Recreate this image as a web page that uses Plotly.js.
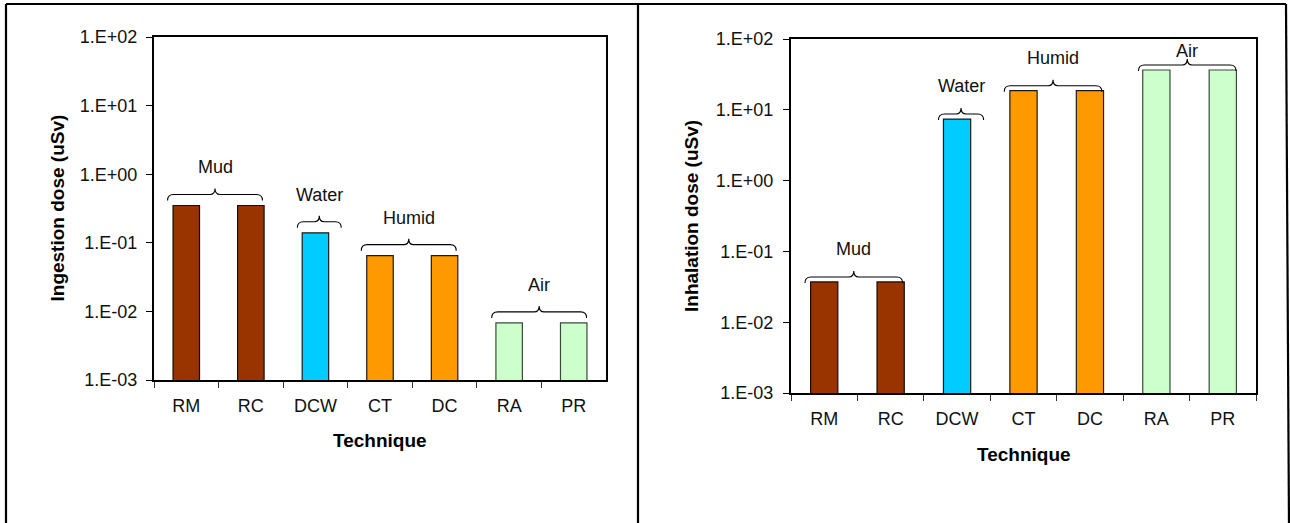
<!DOCTYPE html>
<html>
<head>
<meta charset="utf-8">
<script src="https://cdn.plot.ly/plotly-3.0.1.min.js"></script>
<style>
  html, body { margin: 0; padding: 0; background: #fff; }
  #chart { width: 1290px; height: 523px; }
</style>
</head>
<body>
<div id="chart"></div>
<script>
// ---------------- data ----------------
var categories = ['RM', 'RC', 'DCW', 'CT', 'DC', 'RA', 'PR'];
var groups     = ['Mud', 'Mud', 'Water', 'Humid', 'Humid', 'Air', 'Air'];
var ingestionDose  = [0.35, 0.35, 0.14, 0.065, 0.065, 0.0068, 0.0068];
var inhalationDose = [0.037, 0.037, 7.4, 18.6, 18.6, 36.5, 36.5];
var yTickVals  = [0.001, 0.01, 0.1, 1, 10, 100];
var yTickText  = ['1.E-03', '1.E-02', '1.E-01', '1.E+00', '1.E+01', '1.E+02'];
var groupNames = ['Mud', 'Water', 'Humid', 'Air'];

// ---------------- styles ----------------
var W = 1290, H = 523;
var groupFill = { Mud: '#993300', Water: '#00CCFF', Humid: '#FF9900', Air: '#CCFFCC' };
var groupEdge = { Mud: '#1a0a00', Water: '#1a1a1a', Humid: '#1a1a1a', Air: '#3a4a3a' };
var FONT = 'Liberation Sans, Arial, sans-serif';
// brace horizontal extension (in category widths) left / right of the outer bars
var braceExt = { Mud: [0.29, 0.18], Water: [0.28, 0.40], Humid: [0.29, 0.18], Air: [0.27, 0.2] };

var panels = [
  { values: ingestionDose, title: 'Ingestion dose (uSv)', xa: 'x', ya: 'y',
    left: 154, right: 606, top: 37, bottom: 380,
    braceGap: 11, labelOff: 27, labelOverride: {},
    yTitleX: 57, xTitleY: 440, ytickStandoff: 5 },
  { values: inhalationDose, title: 'Inhalation dose (uSv)', xa: 'x2', ya: 'y2',
    left: 791, right: 1256, top: 39, bottom: 393,
    braceGap: 5, labelOff: 28, labelOverride: { Air: 14 },
    yTitleX: 691, xTitleY: 454, ytickStandoff: 6 }
];

function px2x(p) { return p / W; }
function px2y(p) { return 1 - p / H; }

var traces = [];
var shapes = [];
var annotations = [];
var layout = {
  width: W, height: H,
  margin: { l: 0, r: 0, t: 0, b: 0, pad: 0 },
  paper_bgcolor: '#ffffff',
  plot_bgcolor: '#ffffff',
  showlegend: false,
  font: { family: FONT, size: 18, color: '#000' },
  bargap: 0.59
};

panels.forEach(function (p, k) {
  var sfx = k === 0 ? '' : '2';
  traces.push({
    type: 'bar',
    x: categories,
    y: p.values,
    xaxis: p.xa, yaxis: p.ya,
    marker: {
      color: groups.map(function (g) { return groupFill[g]; }),
      line: { color: groups.map(function (g) { return groupEdge[g]; }), width: 1.2 }
    },
    hoverinfo: 'x+y'
  });

  layout['xaxis' + sfx] = {
    domain: [px2x(p.left), px2x(p.right)],
    anchor: 'y' + sfx,
    type: 'category',
    categoryorder: 'array', categoryarray: categories,
    showline: true, linecolor: '#000', linewidth: 2, mirror: true,
    ticks: 'outside', tickson: 'boundaries', ticklen: 6, tickwidth: 1, tickcolor: '#333',
    tickfont: { family: FONT, size: 18, color: '#111' },
    ticklabelstandoff: 8,
    showgrid: false, zeroline: false, fixedrange: true
  };
  layout['yaxis' + sfx] = {
    domain: [px2y(p.bottom), px2y(p.top)],
    anchor: 'x' + sfx,
    type: 'log', range: [-3, 2],
    tickvals: yTickVals, ticktext: yTickText,
    showline: true, linecolor: '#000', linewidth: 2, mirror: true,
    ticks: 'outside', ticklen: 6, tickwidth: 1, tickcolor: '#000',
    tickfont: { family: FONT, size: 18, color: '#111' },
    ticklabelstandoff: p.ytickStandoff,
    showgrid: false, zeroline: false, fixedrange: true
  };

  // axis titles
  annotations.push({
    xref: 'paper', yref: 'paper',
    x: px2x(p.yTitleX), y: px2y((p.top + p.bottom) / 2),
    text: '<b>' + p.title + '</b>', textangle: -90, showarrow: false,
    font: { family: FONT, size: 19, color: '#000' },
    xanchor: 'center', yanchor: 'middle'
  });
  annotations.push({
    xref: 'paper', yref: 'paper',
    x: px2x((p.left + p.right) / 2), y: px2y(p.xTitleY),
    text: '<b>Technique</b>', showarrow: false,
    font: { family: FONT, size: 19, color: '#000' },
    xanchor: 'center', yanchor: 'middle'
  });

  // braces + group labels (derived from data positions)
  var cw = (p.right - p.left) / categories.length;
  var ppd = (p.bottom - p.top) / 5;
  function cx(i) { return p.left + (i + 0.5) * cw; }
  function vy(v) { return p.top + (2 - Math.log10(v)) * ppd; }

  groupNames.forEach(function (g) {
    var idx = [];
    groups.forEach(function (gg, i) { if (gg === g) idx.push(i); });
    var first = idx[0], last = idx[idx.length - 1];
    var vmax = Math.max.apply(null, idx.map(function (i) { return p.values[i]; }));
    var x0 = cx(first) - braceExt[g][0] * cw, x1 = cx(last) + braceExt[g][1] * cw;
    var xm = (x0 + x1) / 2;
    var yl = vy(vmax) - p.braceGap;
    var he = 6, ht = 6, r = 6, rt = 5;
    function P(x, y) { return px2x(x).toFixed(5) + ',' + px2y(y).toFixed(5); }
    var path = 'M ' + P(x0, yl + he) +
      ' Q ' + P(x0, yl) + ' ' + P(x0 + r, yl) +
      ' L ' + P(xm - rt, yl) +
      ' Q ' + P(xm, yl) + ' ' + P(xm, yl - ht) +
      ' Q ' + P(xm, yl) + ' ' + P(xm + rt, yl) +
      ' L ' + P(x1 - r, yl) +
      ' Q ' + P(x1, yl) + ' ' + P(x1, yl + he);
    shapes.push({
      type: 'path', xref: 'paper', yref: 'paper', path: path,
      line: { color: '#000', width: 1.1 }
    });
    var off = p.labelOverride[g] !== undefined ? p.labelOverride[g] : p.labelOff;
    annotations.push({
      xref: 'paper', yref: 'paper',
      x: px2x(xm), y: px2y(yl - off),
      text: g, showarrow: false,
      font: { family: FONT, size: 18, color: '#111' },
      xanchor: 'center', yanchor: 'middle'
    });
  });
});

// outer frame of the two panels
var frame = { l: 6, r: 1286, t: 4, mid: 638 };
[
  [frame.l, frame.t, frame.r, frame.t],
  [frame.l, frame.t, frame.l, H + 5],
  [frame.mid, frame.t, frame.mid, H + 5],
  [frame.r, frame.t, frame.r + 3, H + 5]
].forEach(function (s) {
  shapes.push({
    type: 'line', xref: 'paper', yref: 'paper',
    x0: px2x(s[0]), y0: px2y(s[1]), x1: px2x(s[2]), y1: px2y(s[3]),
    line: { color: '#000', width: 2.2 }
  });
});

layout.shapes = shapes;
layout.annotations = annotations;

Plotly.newPlot('chart', traces, layout, { displayModeBar: false, staticPlot: true });
</script>
</body>
</html>
